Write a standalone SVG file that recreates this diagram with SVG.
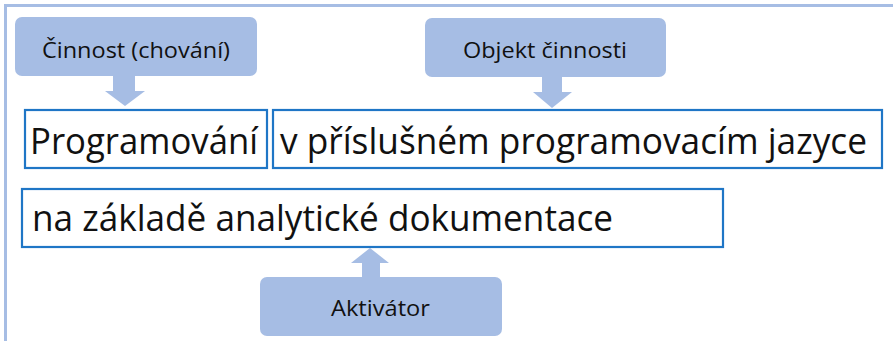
<svg xmlns="http://www.w3.org/2000/svg" width="893" height="341" viewBox="0 0 893 341">
<style>
.lbl{fill:#A6BDE4}
.box{fill:#FFFFFF;stroke:#1F76C6;stroke-width:2.2}
.small{font-family:"Open Sans","Noto Sans","Liberation Sans",sans-serif;font-size:21px;fill:#111}
.big{font-family:"Open Sans","Noto Sans","Liberation Sans",sans-serif;font-size:37px;fill:#111}
</style>
<rect x="5.5" y="5.5" width="900" height="350" fill="none" stroke="#A6BDE4" stroke-width="3"/>
<g id="connectors">
<polygon class="lbl" points="113,76 135,76 135,91 145,91 125,106 105,91 113,91"/>
<polygon class="lbl" points="542,77 562,77 562,92 572,92 552,108 533,92 542,92"/>
<polygon class="lbl" points="362,277 380,277 380,263 389,263 370,248 351,263 362,263"/>
</g>
<g id="cinnost">
<rect class="lbl" x="15" y="17" width="242" height="59" rx="7"/>
<text class="small" x="42" y="58" textLength="188" lengthAdjust="spacingAndGlyphs">Činnost (chování)</text>
</g>
<g id="objekt">
<rect class="lbl" x="425" y="18" width="241" height="59" rx="7"/>
<text class="small" x="463" y="58" textLength="164" lengthAdjust="spacingAndGlyphs">Objekt činnosti</text>
</g>
<g id="programovani">
<rect class="box" x="25" y="110" width="242" height="58"/>
<text class="big" x="30" y="154" textLength="228" lengthAdjust="spacingAndGlyphs">Programování</text>
</g>
<g id="jazyk">
<rect class="box" x="273" y="110" width="609" height="58"/>
<text class="big" x="280" y="154" textLength="587" lengthAdjust="spacingAndGlyphs">v příslušném programovacím jazyce</text>
</g>
<g id="dokumentace">
<rect class="box" x="22" y="189" width="701" height="58"/>
<text class="big" x="32" y="231" textLength="581" lengthAdjust="spacingAndGlyphs">na základě analytické dokumentace</text>
</g>
<g id="aktivator">
<rect class="lbl" x="260" y="277" width="242" height="59" rx="7"/>
<text class="small" x="331" y="316" textLength="99" lengthAdjust="spacingAndGlyphs">Aktivátor</text>
</g>
</svg>
